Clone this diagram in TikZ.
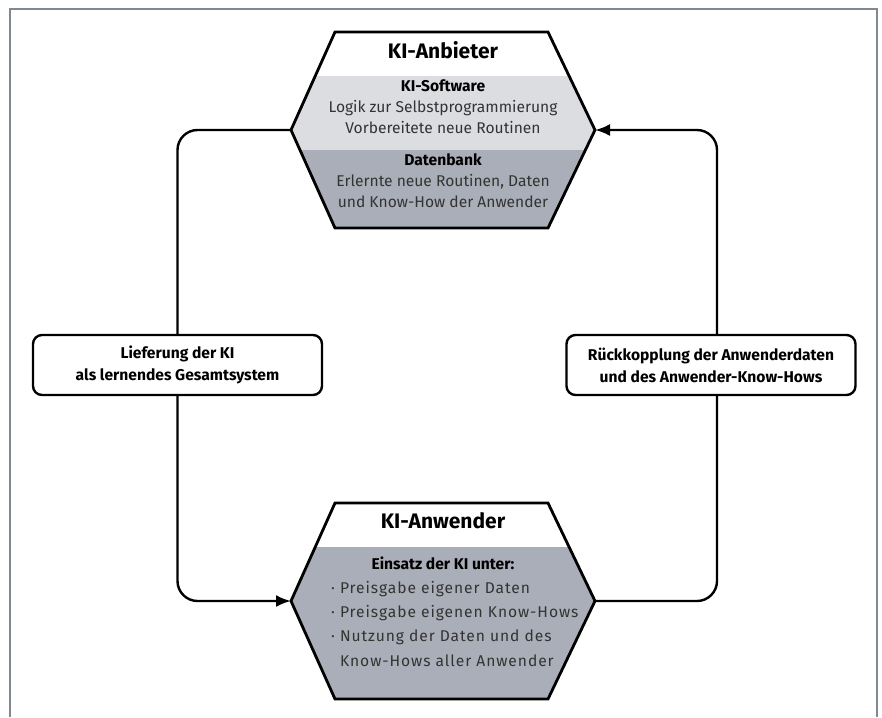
\documentclass[tikz,border=0pt]{standalone}
\usepackage{fontspec}
\setmainfont{Fira Sans}
\usetikzlibrary{arrows.meta,positioning}
\definecolor{hell}{RGB}{220,221,225}
\definecolor{dunkel}{RGB}{170,174,184}
\definecolor{rahmen}{RGB}{128,136,144}
\newcommand{\sechseckpfad}[1]{(335,#1) -- (548,#1) -- (595,{#1+98}) -- (548,{#1+196}) -- (335,{#1+196}) -- (291,{#1+98}) -- cycle}

\begin{document}
\begin{tikzpicture}[x=1pt,y=-1pt]
	\tikzset{
		umriss/.style={draw,line width=2.8pt,line join=miter},
		titel/.style={anchor=base,font=\fontsize{21}{25}\selectfont\bfseries},
		inhalt/.style={anchor=base,align=center,inner sep=0pt,text=black!80,font=\fontsize{15.6}{20.7}\selectfont},
		etikett/.style={draw,line width=2.4pt,rounded corners=9pt,minimum width=289pt,minimum height=60pt,
			align=center,inner sep=0pt,font=\fontsize{15.6}{22}\selectfont\bfseries},
		linie/.style={line width=2.4pt,rounded corners=20pt},
		pfeil/.style={linie,-{Latex[length=15pt,width=12pt]}}
	}
	\useasboundingbox (0,0) rectangle (882,717);
	\draw[rahmen,line width=2pt] (10,717) -- (10,9) -- (877,9) -- (877,717);
	% KI-Anbieter oben
	\begin{scope}
		\clip \sechseckpfad{32};
		\fill[hell] (280,76) rectangle (600,150);
		\fill[dunkel] (280,150) rectangle (600,230);
	\end{scope}
	\draw[umriss] \sechseckpfad{32};
	\coordinate (anb-w) at (291,130);
	\coordinate (anb-o) at (595,130);
	\node[titel] (anb-titel) at (443,58) {KI-Anbieter};
	\node[inhalt] (software) at (443,133) {\textbf{\color{black}KI-Software}\\Logik zur Selbstprogrammierung\\Vorbereitete neue Routinen};
	\node[inhalt] (datenbank) at (443,207) {\textbf{\color{black}Datenbank}\\Erlernte neue Routinen, Daten\\und Know-How der Anwender};
	% KI-Anwender unten
	\begin{scope}
		\clip \sechseckpfad{503};
		\fill[dunkel] (280,547) rectangle (600,700);
	\end{scope}
	\draw[umriss] \sechseckpfad{503};
	\coordinate (anw-w) at (291,601);
	\coordinate (anw-o) at (595,601);
	\node[titel] (anw-titel) at (443,528) {KI-Anwender};
	\node[inhalt,font=\fontsize{15.6}{20}\selectfont\bfseries,text=black] (einsatz) at (443,569) {Einsatz der KI unter:};
	\node[inhalt,align=left,anchor=base west,font=\fontsize{15.6}{24.3}\selectfont\addfontfeature{LetterSpace=6}] (liste) at (331,666)
		{· Preisgabe eigener Daten\\· Preisgabe eigenen Know-Hows\\· Nutzung der Daten und des\\\phantom{· }Know-Hows aller Anwender};
	% Beschriftungen
	\node[etikett] (lieferung) at (177.5,365) {Lieferung der KI\\als lernendes Gesamtsystem};
	\node[etikett] (rueck) at (711,365) {Rückkopplung der Anwenderdaten\\und des Anwender-Know-Hows};
	% Verbindungen
	\draw[linie] (anb-w) -| (lieferung);
	\draw[pfeil] (lieferung) |- (anw-w);
	\draw[linie] (anw-o) -| ([xshift=6pt]rueck.south);
	\draw[pfeil] ([xshift=6pt]rueck.north) |- (anb-o);
\end{tikzpicture}
\end{document}
